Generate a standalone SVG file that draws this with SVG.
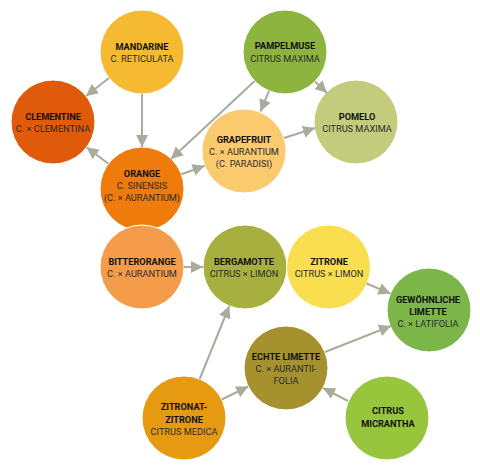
<svg xmlns="http://www.w3.org/2000/svg" width="480" height="471" viewBox="0 0 480 471">
<style>
text{font-family:Roboto,"Liberation Sans",sans-serif;font-size:9.2px;text-anchor:middle;fill:#2b2b2b}
.b{font-weight:bold;fill:#111}
circle{stroke:#fff;stroke-width:1}
.c line{stroke:#a9ab9c;stroke-width:2;marker-end:url(#ah)}
</style>
<defs>
<marker id="ah" markerUnits="userSpaceOnUse" markerWidth="13" markerHeight="13" refX="12" refY="6" orient="auto">
<path d="M0,0 L12,6 L0,12 Z" fill="#a9ab9c"/>
</marker>
</defs>
<g id="mandarine"><circle cx="142" cy="52" r="42" fill="#f5ba32"/><text class="b" x="142" y="49.5">MANDARINE</text><text x="142" y="62">C. RETICULATA</text></g>
<g id="clementine"><circle cx="53" cy="122" r="42" fill="#df5a0b"/><text class="b" x="53" y="120">CLEMENTINE</text><text x="53" y="132">C. × CLEMENTINA</text></g>
<g id="orange"><circle cx="142" cy="189" r="42" fill="#ee7b0b"/><text class="b" x="142" y="177">ORANGE</text><text x="142" y="189">C. SINENSIS</text><text x="142" y="201">(C. × AURANTIUM)</text></g>
<g id="pampelmuse"><circle cx="285" cy="52" r="42" fill="#8cb43f"/><text class="b" x="285" y="49">PAMPELMUSE</text><text x="285" y="62">CITRUS MAXIMA</text></g>
<g id="pomelo"><circle cx="356" cy="122" r="42" fill="#c3cc7d"/><text class="b" x="357" y="119.5">POMELO</text><text x="357" y="132">CITRUS MAXIMA</text></g>
<g id="grapefruit"><circle cx="244" cy="151" r="42" fill="#fbc96e"/><text class="b" x="244" y="142.5">GRAPEFRUIT</text><text x="244" y="155">C. × AURANTIUM</text><text x="244" y="166.5">(C. PARADISI)</text></g>
<g id="bitterorange"><circle cx="142" cy="267" r="42" fill="#f59c4b"/><text class="b" x="142" y="265">BITTERORANGE</text><text x="142" y="277">C. × AURANTIUM</text></g>
<g id="bergamotte"><circle cx="245" cy="267" r="42" fill="#a7af3e"/><text class="b" x="244" y="265">BERGAMOTTE</text><text x="244" y="277">CITRUS × LIMON</text></g>
<g id="zitrone"><circle cx="328.5" cy="267" r="42" fill="#f9de4f"/><text class="b" x="329" y="265">ZITRONE</text><text x="329" y="277">CITRUS × LIMON</text></g>
<g id="gewoehnliche-limette"><circle cx="429" cy="310" r="42" fill="#7cb648"/><text class="b" x="428" y="302.5">GEWÖHNLICHE</text><text class="b" x="428" y="314.5">LIMETTE</text><text x="428" y="327">C. × LATIFOLIA</text></g>
<g id="echte-limette"><circle cx="286" cy="368" r="42" fill="#a5922f"/><text class="b" x="286" y="360">ECHTE LIMETTE</text><text x="286" y="372">C. × AURANTII-</text><text x="286" y="384">FOLIA</text></g>
<g id="zitronat-zitrone"><circle cx="184" cy="418" r="42" fill="#e69a12"/><text class="b" x="184" y="410">ZITRONAT-</text><text class="b" x="184" y="422.5">ZITRONE</text><text x="184" y="434.5">CITRUS MEDICA</text></g>
<g id="citrus-micrantha"><circle cx="387" cy="418" r="42" fill="#97c53c"/><text class="b" x="388" y="414">CITRUS</text><text class="b" x="388" y="427">MICRANTHA</text></g>
<g id="connectors" class="c">
<line x1="109" y1="78" x2="86" y2="96"/>
<line x1="142" y1="94" x2="142" y2="147"/>
<line x1="108.4" y1="163.8" x2="86.6" y2="147.2"/>
<line x1="181.4" y1="174.3" x2="204.6" y2="165.7"/>
<line x1="254.7" y1="81" x2="171" y2="159"/>
<line x1="269" y1="90.8" x2="260.5" y2="111.5"/>
<line x1="315" y1="81.5" x2="327" y2="93"/>
<line x1="284" y1="138" x2="315" y2="128"/>
<line x1="184" y1="267" x2="203" y2="267"/>
<line x1="366.6" y1="283.5" x2="390.4" y2="293.5"/>
<line x1="325" y1="352" x2="391" y2="326"/>
<line x1="199.7" y1="379" x2="229.3" y2="306"/>
<line x1="221.7" y1="399.5" x2="248.3" y2="386.5"/>
<line x1="348" y1="401" x2="323" y2="388"/>
</g>
</svg>
